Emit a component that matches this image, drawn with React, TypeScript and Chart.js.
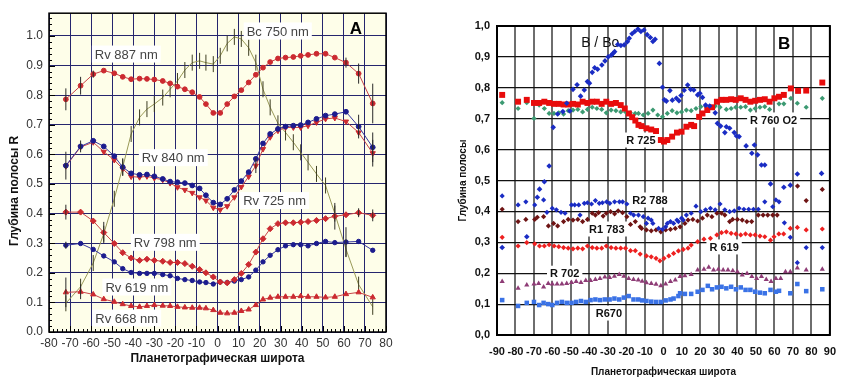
import React, { useEffect, useRef } from "react";
import { Chart, registerables } from "chart.js";

Chart.register(...registerables);

const FONT = "'Liberation Sans', Arial, sans-serif";
Chart.defaults.font.family = FONT;

// ---------------- Panel A data ----------------
const latA = [-72, -65, -59, -54, -49, -45, -41, -37, -33.5, -30, -26, -22.5, -19, -15.5, -12, -8.5, -5.5, -2, 1.3, 4.6, 8, 11.3, 14.8, 18.2, 21.6, 25, 28.7, 32.3, 36, 39.5, 43, 47, 51.3, 55.7, 61, 67, 73.7];
const rv887 = [0.786, 0.832, 0.871, 0.883, 0.874, 0.862, 0.854, 0.856, 0.855, 0.853, 0.848, 0.84, 0.829, 0.82, 0.81, 0.794, 0.77, 0.74, 0.74, 0.77, 0.796, 0.817, 0.843, 0.869, 0.893, 0.912, 0.924, 0.927, 0.929, 0.933, 0.936, 0.94, 0.94, 0.927, 0.91, 0.873, 0.772];
const rv840 = [0.562, 0.627, 0.646, 0.627, 0.594, 0.557, 0.536, 0.531, 0.532, 0.526, 0.517, 0.508, 0.506, 0.503, 0.495, 0.485, 0.462, 0.437, 0.431, 0.45, 0.48, 0.51, 0.54, 0.585, 0.637, 0.669, 0.686, 0.694, 0.697, 0.699, 0.708, 0.72, 0.731, 0.736, 0.744, 0.694, 0.624];
const rv725 = [0.56, 0.625, 0.641, 0.609, 0.581, 0.551, 0.525, 0.523, 0.526, 0.52, 0.514, 0.503, 0.489, 0.48, 0.47, 0.455, 0.444, 0.42, 0.413, 0.425, 0.455, 0.49, 0.525, 0.562, 0.618, 0.658, 0.68, 0.691, 0.691, 0.691, 0.697, 0.708, 0.72, 0.723, 0.711, 0.674, 0.604];
const rv798 = [0.405, 0.405, 0.375, 0.336, 0.299, 0.268, 0.25, 0.242, 0.246, 0.242, 0.239, 0.235, 0.235, 0.231, 0.222, 0.211, 0.2, 0.186, 0.169, 0.166, 0.177, 0.198, 0.228, 0.27, 0.315, 0.349, 0.366, 0.369, 0.369, 0.371, 0.373, 0.377, 0.383, 0.391, 0.396, 0.403, 0.394];
const rv619 = [0.293, 0.299, 0.279, 0.257, 0.237, 0.214, 0.201, 0.198, 0.198, 0.198, 0.194, 0.19, 0.181, 0.177, 0.174, 0.169, 0.167, 0.162, 0.169, 0.167, 0.172, 0.177, 0.186, 0.209, 0.237, 0.259, 0.278, 0.291, 0.295, 0.295, 0.291, 0.299, 0.306, 0.302, 0.304, 0.306, 0.276];
const rv668 = [0.134, 0.136, 0.127, 0.111, 0.102, 0.094, 0.088, 0.085, 0.088, 0.091, 0.089, 0.088, 0.085, 0.083, 0.082, 0.082, 0.08, 0.074, 0.065, 0.063, 0.065, 0.071, 0.076, 0.091, 0.11, 0.116, 0.119, 0.119, 0.119, 0.121, 0.119, 0.119, 0.117, 0.119, 0.128, 0.134, 0.117];
const bc750 = [0.097, 0.153, 0.233, 0.332, 0.45, 0.557, 0.669, 0.725, 0.753, 0.77, 0.792, 0.82, 0.848, 0.885, 0.91, 0.916, 0.91, 0.905, 0.933, 0.975, 0.997, 0.99, 0.96, 0.91, 0.82, 0.759, 0.705, 0.674, 0.641, 0.607, 0.573, 0.534, 0.495, 0.4, 0.28, 0.16, 0.085];

// error half-widths, keyed by point index
const err887: Record<number, number> = { 0: 0.037, 1: 0.03, 2: 0.012, 34: 0.017, 35: 0.034, 36: 0.067 };
const err840: Record<number, number> = { 0: 0.047, 1: 0.02, 5: 0.03, 35: 0.04, 36: 0.05 };
const err725: Record<number, number> = { 23: 0.025, 36: 0.045 };
const err798: Record<number, number> = { 0: 0.025, 3: 0.036, 33: 0.045, 35: 0.015, 36: 0.02 };
const err619: Record<number, number> = { 0: 0.012, 34: 0.05 };
const err668: Record<number, number> = { 0: 0.05, 1: 0.025 };

const labelsA = [
  { text: "Rv 887 nm", x: -43.3, y: 0.939 },
  { text: "Bc 750 nm", x: 28.6, y: 1.017 },
  { text: "Rv 840 nm", x: -21, y: 0.589 },
  { text: "Rv 725 nm", x: 27.1, y: 0.444 },
  { text: "Rv 798 nm", x: -24.8, y: 0.303 },
  { text: "Rv 619 nm", x: -38.3, y: 0.152 },
  { text: "Rv 668 nm", x: -43.1, y: 0.047 },
];
const panelLabelA = { text: "A", x: 65.7, y: 1.027 };

// ---------------- Panel B data ([latitude, depth]) ----------------
const bBo: [number, number][] = [[-87.2,0.283],[-73.9,0.318],[-68.2,0.446],[-67,0.472],[-64.4,0.496],[-61.8,0.547],[-59.6,0.672],[-57.2,0.715],[-54.4,0.723],[-52.3,0.75],[-50.6,0.725],[-48.9,0.795],[-46.7,0.81],[-44.8,0.773],[-42.8,0.793],[-41.1,0.82],[-40,0.815],[-38.5,0.85],[-37.2,0.865],[-35.6,0.86],[-33.3,0.874],[-31.6,0.887],[-29.9,0.9],[-28.1,0.906],[-27.3,0.911],[-26.4,0.917],[-24.7,0.94],[-23,0.937],[-21.2,0.939],[-19.5,0.949],[-18.5,0.96],[-17,0.975],[-15.5,0.982],[-13.8,0.99],[-12.2,0.982],[-10.5,0.987],[-8.8,0.972],[-7.1,0.963],[-5.7,0.95],[-4.5,0.957],[-2.2,0.879],[-0.5,0.802],[0.5,0.761],[1.6,0.757],[3.5,0.791],[4.8,0.76],[7,0.766],[8.4,0.758],[9.5,0.775],[11.2,0.792],[13.1,0.809],[14.7,0.795],[16.4,0.793],[18.5,0.777],[19.7,0.782],[21.1,0.769],[22.8,0.744],[25,0.741],[28,0.719],[29.2,0.685],[30.9,0.676],[33.2,0.655],[34,0.674],[35.8,0.669],[38.3,0.655],[39.5,0.644],[40.9,0.642],[44.7,0.612],[47.8,0.588],[49.2,0.615],[50.9,0.583],[53,0.55],[54.8,0.55],[57.9,0.489],[65.1,0.478],[68.6,0.485],[72.4,0.521],[85.5,0.523]];
const r725: [number, number][] = [[-87.2,0.777],[-78.6,0.755],[-73.9,0.761],[-70,0.751],[-67.2,0.751],[-64.4,0.755],[-61.8,0.751],[-59.2,0.748],[-56.6,0.748],[-54,0.746],[-51.5,0.746],[-48.9,0.748],[-46.3,0.746],[-43.7,0.755],[-41.1,0.751],[-38.5,0.755],[-36,0.755],[-33.4,0.748],[-30.9,0.755],[-28.3,0.748],[-25.7,0.751],[-23.1,0.744],[-20.9,0.733],[-18.7,0.717],[-16.9,0.705],[-15.2,0.694],[-13.5,0.68],[-11.8,0.676],[-9.2,0.669],[-6.6,0.665],[-4,0.66],[-1.4,0.631],[0.3,0.626],[2.1,0.631],[4.7,0.642],[7.3,0.655],[9.8,0.658],[12.4,0.674],[15,0.68],[16.6,0.676],[19.3,0.706],[21.1,0.717],[23.7,0.728],[26.3,0.737],[28.9,0.755],[31.4,0.761],[34,0.761],[36.6,0.763],[39.1,0.761],[41.8,0.766],[44.4,0.761],[47,0.755],[49.6,0.758],[52.2,0.761],[54.8,0.763],[57.4,0.755],[60,0.766],[62.5,0.771],[65.1,0.777],[68.9,0.798],[72.8,0.79],[77.2,0.791],[85.9,0.817]];
const r760: [number, number][] = [[-87.2,0.752],[-78.6,0.733],[-73.9,0.752],[-70,0.701],[-67.2,0.744],[-64.4,0.733],[-61.8,0.717],[-59.2,0.717],[-56.6,0.719],[-54,0.715],[-51.5,0.726],[-48.9,0.728],[-46.3,0.73],[-43.7,0.722],[-41.1,0.73],[-38.5,0.737],[-36,0.733],[-33.4,0.73],[-30.9,0.719],[-28.3,0.728],[-25.7,0.726],[-23.1,0.722],[-20.5,0.722],[-17.9,0.719],[-15.3,0.717],[-13.5,0.717],[-10.9,0.712],[-8.3,0.717],[-5.7,0.728],[-3.1,0.712],[-0.5,0.706],[2.1,0.717],[4.7,0.726],[7.3,0.719],[9.8,0.722],[12.4,0.728],[15,0.726],[17.6,0.733],[20.2,0.739],[22.8,0.741],[25.4,0.739],[28,0.741],[30.6,0.737],[34,0.73],[36.6,0.733],[39.1,0.737],[41.8,0.737],[44.4,0.739],[47,0.728],[49.6,0.733],[52.2,0.737],[54.8,0.739],[57.4,0.73],[62.5,0.748],[65.1,0.748],[68.9,0.766],[72.4,0.75],[77.2,0.737],[85.9,0.766]];
const r788: [number, number][] = [[-87.2,0.45],[-78.6,0.421],[-74.4,0.431],[-69.6,0.421],[-64.8,0.437],[-63,0.397],[-60.1,0.41],[-57.9,0.405],[-55.4,0.397],[-53.2,0.394],[-49.7,0.421],[-48,0.421],[-45.8,0.421],[-45.1,0.388],[-42.8,0.426],[-41.1,0.428],[-38.9,0.424],[-36.8,0.435],[-34.7,0.426],[-33,0.428],[-30.7,0.431],[-29,0.426],[-26.4,0.431],[-23.8,0.431],[-22.1,0.431],[-19.8,0.424],[-17.8,0.394],[-16.1,0.388],[-13.5,0.388],[-10.9,0.383],[-9.2,0.361],[-8.3,0.378],[-6.6,0.372],[-5.7,0.361],[-2.6,0.345],[-0.5,0.342],[1.2,0.35],[2.1,0.361],[3.8,0.367],[5.5,0.361],[7.3,0.372],[8.1,0.367],[9.8,0.378],[10.7,0.372],[12.4,0.388],[15,0.394],[17.6,0.417],[20.2,0.399],[22.8,0.405],[25.4,0.41],[28,0.405],[30.6,0.424],[33.2,0.405],[35.8,0.399],[38.3,0.402],[40.9,0.41],[43.5,0.407],[46.1,0.407],[48.7,0.407],[51.3,0.407],[54.8,0.431],[59.1,0.415],[60.8,0.437],[62.5,0.431],[65.4,0.363],[68.6,0.316],[72.4,0.234],[77.2,0.283],[85.9,0.283]];
const r783: [number, number][] = [[-87.2,0.407],[-78.6,0.367],[-74.4,0.374],[-69.6,0.374],[-68.2,0.381],[-64.8,0.383],[-62.2,0.353],[-59.4,0.361],[-57.2,0.353],[-54,0.367],[-51.5,0.374],[-48.9,0.372],[-46.3,0.374],[-43.7,0.367],[-41.1,0.374],[-38.5,0.394],[-36.8,0.388],[-35.1,0.396],[-32.6,0.385],[-30.9,0.394],[-28.6,0.399],[-26.4,0.392],[-24.5,0.402],[-22.1,0.396],[-19.8,0.383],[-17.8,0.358],[-15.2,0.367],[-12.6,0.35],[-11.8,0.345],[-9.2,0.34],[-6.6,0.337],[-4,0.34],[-1.4,0.334],[1.2,0.34],[3.8,0.342],[6.4,0.345],[9,0.35],[11.6,0.361],[13.3,0.372],[15.9,0.374],[18.5,0.369],[21.1,0.378],[23.7,0.388],[26.2,0.383],[28.9,0.394],[31.4,0.394],[33.2,0.388],[35.8,0.367],[37.4,0.374],[40,0.374],[42.6,0.372],[45.1,0.367],[47.7,0.367],[51.3,0.388],[53.9,0.388],[56.4,0.388],[59.1,0.388],[61.5,0.388],[72.5,0.482],[77.2,0.435],[85.9,0.471]];
const r619: [number, number][] = [[-87.2,0.316],[-78.6,0.288],[-73.9,0.299],[-69.6,0.295],[-67,0.288],[-64.4,0.288],[-61.8,0.292],[-59.1,0.288],[-56.6,0.286],[-54,0.283],[-51.5,0.281],[-48.9,0.279],[-46.3,0.281],[-43.7,0.279],[-41.1,0.288],[-38.5,0.283],[-36,0.281],[-33.4,0.281],[-30.9,0.288],[-28.3,0.283],[-25.7,0.281],[-23.1,0.281],[-20.5,0.281],[-17.8,0.273],[-15.2,0.273],[-12.6,0.262],[-9.2,0.256],[-6.6,0.253],[-4,0.248],[-1.9,0.24],[0.3,0.248],[2.9,0.256],[5.5,0.264],[8.1,0.272],[10.7,0.277],[13.3,0.281],[15,0.291],[18.5,0.302],[21.9,0.31],[25.4,0.313],[28.9,0.324],[31.4,0.331],[34,0.334],[36.6,0.329],[39.2,0.327],[41.8,0.324],[44.4,0.327],[47,0.324],[49.6,0.324],[52.2,0.32],[54.8,0.318],[57.9,0.307],[59.8,0.318],[62.4,0.327],[65,0.327],[68.6,0.345],[72.4,0.348],[77.2,0.34],[85.9,0.343]];
const r702: [number, number][] = [[-87.2,0.173],[-78.6,0.151],[-73.9,0.162],[-70,0.165],[-67.5,0.167],[-64.8,0.155],[-62.3,0.167],[-60.1,0.165],[-57.5,0.165],[-54.9,0.165],[-52.3,0.167],[-49.7,0.17],[-47.2,0.173],[-44.6,0.17],[-42,0.176],[-39.4,0.176],[-36.8,0.18],[-34.3,0.183],[-31.7,0.188],[-29.1,0.186],[-26.5,0.19],[-23.9,0.196],[-21.4,0.19],[-18.8,0.183],[-16.2,0.18],[-13.6,0.178],[-11.5,0.174],[-9.2,0.169],[-6.6,0.167],[-4,0.164],[-1.4,0.159],[1.2,0.165],[3.8,0.173],[6.4,0.178],[9,0.189],[11.6,0.192],[15,0.196],[18.5,0.21],[21.9,0.213],[24.5,0.219],[27.1,0.21],[29.7,0.213],[32.3,0.21],[34.9,0.21],[37.5,0.208],[40,0.205],[42.6,0.194],[45.2,0.199],[47.8,0.189],[50.4,0.183],[53,0.189],[55.6,0.18],[58.2,0.173],[60.8,0.183],[63.4,0.183],[66,0.205],[68.6,0.205],[72.4,0.217],[77.2,0.21],[85.9,0.213]];
const r670: [number, number][] = [[-87.2,0.113],[-78.6,0.094],[-73.9,0.104],[-70,0.107],[-67.2,0.097],[-64.8,0.104],[-62.3,0.1],[-60.1,0.097],[-57.5,0.104],[-54.9,0.107],[-52.3,0.104],[-49.7,0.104],[-47.2,0.107],[-44.6,0.11],[-42,0.107],[-39.4,0.113],[-36.8,0.115],[-34.3,0.113],[-31.7,0.115],[-29.1,0.115],[-26.5,0.118],[-23.9,0.115],[-21.4,0.121],[-18.8,0.126],[-16.2,0.115],[-13.6,0.115],[-11.5,0.112],[-9.2,0.11],[-6.6,0.108],[-4,0.107],[-1.4,0.107],[1.2,0.112],[3.8,0.115],[5.5,0.118],[8.1,0.126],[9,0.135],[11.6,0.133],[15,0.133],[18.5,0.14],[21.1,0.146],[24,0.159],[26.3,0.148],[28.9,0.154],[31.4,0.156],[34,0.151],[36.6,0.156],[39.2,0.148],[41.8,0.154],[44.4,0.146],[47,0.146],[49.6,0.14],[52.2,0.137],[54.8,0.135],[57.9,0.146],[60.8,0.14],[62.5,0.143],[68.6,0.135],[72.4,0.165],[77.2,0.142],[85.9,0.148]];

const labelsB = [
  { text: "R 725", x: -12.2, y: 0.631 },
  { text: "R 760 O2", x: 59.6, y: 0.696 },
  { text: "R2 788", x: -7.3, y: 0.437 },
  { text: "R1 783", x: -30.6, y: 0.343 },
  { text: "R 619", x: 32.8, y: 0.285 },
  { text: "R 702", x: -53.4, y: 0.2 },
  { text: "R670", x: -29.5, y: 0.071 },
];
const titleLabelB = { text: "B / Bo", x: -34.2, y: 0.948 };
const panelLabelB = { text: "B", x: 65.3, y: 0.945 };

// ---------------- helpers ----------------
const xyA = (vals: number[]) => vals.map((v, i) => ({ x: latA[i], y: v }));
const xyB = (pairs: [number, number][]) => pairs.map(([x, y]) => ({ x, y }));

type Lbl = { text: string; x: number; y: number; font: string; color: string; bg: boolean };

function textPlugin(id: string, items: Lbl[]) {
  return {
    id,
    beforeDatasetsDraw(chart: any) {
      const { ctx, scales } = chart;
      ctx.save();
      for (const it of items) {
        const px = scales.x.getPixelForValue(it.x);
        const py = scales.y.getPixelForValue(it.y);
        ctx.font = it.font;
        const w = ctx.measureText(it.text).width;
        const h = parseInt(it.font.match(/(\d+)px/)![1], 10);
        if (it.bg) {
          ctx.fillStyle = "#ffffff";
          ctx.fillRect(px - w / 2 - 3, py - h / 2 - 2, w + 6, h + 4);
        }
        ctx.fillStyle = it.color;
        ctx.textAlign = "center";
        ctx.textBaseline = "middle";
        ctx.fillText(it.text, px, py + 1);
      }
      ctx.restore();
    },
  };
}

function framePlugin(id: string, bg: string, border: string, width: number) {
  return {
    id,
    beforeDraw(chart: any) {
      const { ctx, chartArea: a } = chart;
      ctx.save();
      ctx.fillStyle = "#ffffff";
      ctx.fillRect(0, 0, chart.width, chart.height);
      ctx.fillStyle = bg;
      ctx.fillRect(a.left, a.top, a.right - a.left, a.bottom - a.top);
      ctx.restore();
    },
    afterDraw(chart: any) {
      const { ctx, chartArea: a } = chart;
      ctx.save();
      ctx.strokeStyle = border;
      ctx.lineWidth = width;
      ctx.strokeRect(a.left, a.top, a.right - a.left, a.bottom - a.top);
      ctx.restore();
    },
  };
}

const errorBarPlugin = {
  id: "errbars",
  afterDatasetsDraw(chart: any) {
    const { ctx } = chart;
    const y = chart.scales.y;
    ctx.save();
    ctx.strokeStyle = "#2a2a2a";
    ctx.lineWidth = 1;
    chart.data.datasets.forEach((ds: any, i: number) => {
      if (!ds.errors) return;
      const meta = chart.getDatasetMeta(i);
      meta.data.forEach((pt: any, j: number) => {
        const e = ds.errors[j];
        if (!e) return;
        const v = ds.data[j].y;
        ctx.beginPath();
        ctx.moveTo(pt.x, y.getPixelForValue(v - e));
        ctx.lineTo(pt.x, y.getPixelForValue(v + e));
        ctx.stroke();
      });
    });
    ctx.restore();
  },
};

const minorTicksA = {
  id: "minorTicksA",
  afterDraw(chart: any) {
    const { ctx, chartArea: a, scales } = chart;
    ctx.save();
    ctx.strokeStyle = "#000";
    ctx.lineWidth = 1;
    ctx.beginPath();
    for (let v = -80; v <= 80; v += 2) {
      const px = Math.round(scales.x.getPixelForValue(v)) + 0.5;
      const len = v % 10 === 0 ? 6 : 3;
      ctx.moveTo(px, a.bottom);
      ctx.lineTo(px, a.bottom - len);
    }
    for (let k = 0; k <= 53; k++) {
      const v = k * 0.02;
      const py = Math.round(scales.y.getPixelForValue(v)) + 0.5;
      const len = k % 5 === 0 ? 6 : 3;
      ctx.moveTo(a.left, py);
      ctx.lineTo(a.left + len, py);
    }
    ctx.stroke();
    ctx.restore();
  },
};

const RED = "#cc2a30";
const RED_LINE = "#c84448";
const BLUE = "#1c1c8e";
const BLUE_LINE = "#3535a0";

function configA(): any {
  const lineDs = (label: string, vals: number[], color: string, lineColor: string, style: string, radius: number, rot: number, errors: Record<number, number>) => ({
    label,
    data: xyA(vals),
    borderColor: lineColor,
    borderWidth: 1,
    pointStyle: style,
    pointRadius: radius,
    pointRotation: rot,
    pointBackgroundColor: color,
    pointBorderColor: color,
    pointBorderWidth: 1,
    errors,
    tension: 0,
  });
  const tickFont = { family: FONT, size: 12 };
  const labelFont = `13px ${FONT}`;
  const items: Lbl[] = labelsA.map((l) => ({ ...l, font: labelFont, color: "#444", bg: true }));
  items.push({ ...panelLabelA, font: `bold 17px ${FONT}`, color: "#000", bg: false });
  return {
    type: "line",
    data: {
      datasets: [
        lineDs("Rv 887 nm", rv887, RED, RED_LINE, "circle", 2.4, 0, err887),
        lineDs("Rv 840 nm", rv840, BLUE, BLUE_LINE, "circle", 2.4, 0, err840),
        lineDs("Rv 725 nm", rv725, RED, RED_LINE, "triangle", 3, 180, err725),
        lineDs("Rv 798 nm", rv798, RED, RED_LINE, "rectRot", 3, 0, err798),
        lineDs("Rv 619 nm", rv619, BLUE, BLUE_LINE, "circle", 2.2, 0, err619),
        lineDs("Rv 668 nm", rv668, RED, RED_LINE, "triangle", 3, 0, err668),
        {
          label: "Bc 750 nm",
          data: xyA(bc750),
          borderColor: "#9a9a58",
          borderWidth: 1,
          pointStyle: "line",
          pointRotation: 90,
          pointRadius: 8,
          pointBorderColor: "#3e3e22",
          pointBorderWidth: 1,
          tension: 0,
        },
      ],
    },
    options: {
      responsive: false,
      animation: false,
      events: [],
      layout: { padding: { left: 0, right: 14, top: 12, bottom: 0 } },
      plugins: { legend: { display: false }, tooltip: { enabled: false } },
      scales: {
        x: {
          type: "linear",
          min: -80,
          max: 80,
          afterFit: (s: any) => { s.height = 46; },
          ticks: { stepSize: 10, autoSkip: false, maxRotation: 0, minRotation: 0, color: "#333", font: tickFont, padding: 4, includeBounds: false },
          grid: { color: "#26266e", lineWidth: 1, drawTicks: false },
          border: { display: false },
          title: { display: true, text: "Планетографическая широта", color: "#111", font: { family: FONT, size: 12, weight: "bold" }, padding: { top: 2, bottom: 12 } },
        },
        y: {
          type: "linear",
          min: 0,
          max: 1.077,
          afterFit: (s: any) => { s.width = 49; },
          ticks: { stepSize: 0.1, includeBounds: false, color: "#333", font: tickFont, padding: 6, callback: (v: number) => v.toFixed(1) },
          grid: { color: "#26266e", lineWidth: 1, drawTicks: false },
          border: { display: false },
          title: { display: true, text: "Глубина полосы R" + "\u00a0".repeat(11), color: "#111", font: { family: FONT, size: 12, weight: "bold" }, padding: { top: 7, bottom: 0 } },
        },
      },
    },
    plugins: [framePlugin("frameA", "#fefee9", "#000", 1.5), textPlugin("textA", items), errorBarPlugin, minorTicksA],
  };
}

function configB(): any {
  const sc = (label: string, pairs: [number, number][], color: string, style: string, radius: number) => ({
    label,
    data: xyB(pairs),
    showLine: false,
    pointStyle: style,
    pointRadius: radius,
    pointBackgroundColor: color,
    pointBorderColor: color,
    pointBorderWidth: 0,
  });
  const tickFont = { family: FONT, size: 11, weight: "bold" };
  const labelFont = `bold 11px ${FONT}`;
  const items: Lbl[] = labelsB.map((l) => ({ ...l, font: labelFont, color: "#111", bg: true }));
  items.push({ ...titleLabelB, font: `14px ${FONT}`, color: "#111", bg: false });
  items.push({ ...panelLabelB, font: `bold 17px ${FONT}`, color: "#000", bg: false });
  return {
    type: "scatter",
    data: {
      datasets: [
        sc("B / Bo", bBo, "#1a2cc4", "rectRot", 2.8),
        sc("R 725", r725, "#e80c0c", "rect", 4.2),
        sc("R 760 O2", r760, "#3c9a72", "rectRot", 2.6),
        sc("R2 788", r788, "#1a2cc4", "rectRot", 2.6),
        sc("R1 783", r783, "#6e1414", "rectRot", 2.6),
        sc("R 619", r619, "#ee2020", "rectRot", 2.6),
        sc("R 702", r702, "#8e3c76", "triangle", 3),
        sc("R670", r670, "#3a72e6", "rect", 3.2),
      ],
    },
    options: {
      responsive: false,
      animation: false,
      events: [],
      layout: { padding: { left: 0, right: 1, top: 26, bottom: 0 } },
      plugins: { legend: { display: false }, tooltip: { enabled: false } },
      scales: {
        x: {
          type: "linear",
          min: -90,
          max: 90,
          afterFit: (s: any) => { s.height = 43; },
          ticks: { stepSize: 10, autoSkip: false, maxRotation: 0, minRotation: 0, color: "#111", font: tickFont, padding: 10, includeBounds: false },
          grid: { color: "#6e6e6e", lineWidth: 2, drawTicks: false },
          border: { display: false },
          title: { display: true, text: "Планетографическая широта", color: "#111", font: { family: FONT, size: 10, weight: "bold" }, padding: { top: 4, bottom: 0 } },
        },
        y: {
          type: "linear",
          min: 0,
          max: 1,
          afterFit: (s: any) => { s.width = 51; },
          ticks: { stepSize: 0.1, includeBounds: false, color: "#111", font: tickFont, padding: 7, callback: (v: number) => v.toFixed(1).replace(".", ",") },
          grid: { color: "#111", lineWidth: 1.2, drawTicks: false },
          border: { display: false },
          title: { display: true, text: "Глубина полосы", color: "#111", font: { family: FONT, size: 10, weight: "bold" }, padding: { top: 11, bottom: 0 } },
        },
      },
    },
    plugins: [framePlugin("frameB", "#ffffff", "#000", 2), textPlugin("textB", items)],
  };
}

export default function App() {
  const refA = useRef<HTMLCanvasElement>(null);
  const refB = useRef<HTMLCanvasElement>(null);
  useEffect(() => {
    const a = new Chart(refA.current!, configA());
    const b = new Chart(refB.current!, configB());
    return () => {
      a.destroy();
      b.destroy();
    };
  }, []);
  return (
    <div style={{ position: "fixed", left: 0, top: 0, width: 846, height: 378, background: "#fff", overflow: "hidden" }}>
      <canvas ref={refA} width={400} height={378} style={{ position: "absolute", left: 0, top: 0, width: 400, height: 378 }} />
      <canvas ref={refB} width={400} height={378} style={{ position: "absolute", left: 446, top: 0, width: 400, height: 378 }} />
    </div>
  );
}
